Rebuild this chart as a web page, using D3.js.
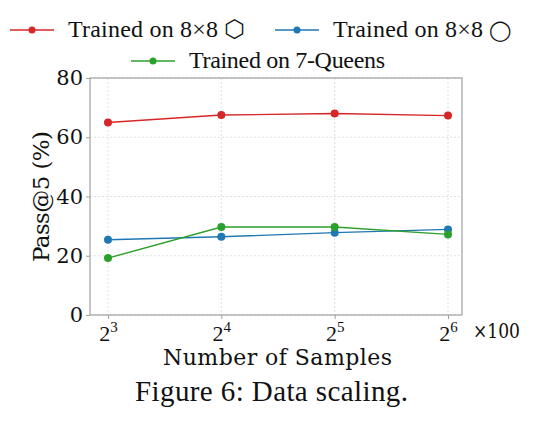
<!DOCTYPE html>
<html>
<head>
<meta charset="utf-8">
<script src="https://cdn.jsdelivr.net/npm/d3@7"></script>
<style>
  body { margin: 0; background: #fff; }
  svg { display: block; }
</style>
</head>
<body>
<div id="chart"></div>
<script>
// data
const exponents = [3, 4, 5, 6];
const seriesNames = ['Trained on 8\u00d78', 'Trained on 8\u00d78', 'Trained on 7-Queens'];
const seriesSymbols = ['\u2b21', '\u25ef', ''];
const seriesColors = ['#d62728', '#1f77b4', '#2ca02c'];
const hexValues = [65.0, 67.5, 68.0, 67.3];
const circleValues = [25.4, 26.4, 27.8, 28.9];
const queensValues = [19.2, 29.7, 29.7, 27.2];
const yTicks = [0, 20, 40, 60, 80];

const W = 552, H = 424;
const margin = {top: 78, right: 90, bottom: 109, left: 90};
const width = W - margin.left - margin.right;
const height = H - margin.top - margin.bottom;

const svg = d3.select('#chart').append('svg')
  .attr('width', W)
  .attr('height', H);

const g = svg.append('g')
  .attr('transform', 'translate(' + margin.left + ',' + margin.top + ')');

const x = d3.scalePoint().domain(exponents).range([18, width - 14]);
const y = d3.scaleLinear().domain([0, 80]).range([height, 0]);

// grid
g.selectAll('.vgrid').data(exponents).enter().append('line')
  .attr('x1', d => x(d)).attr('x2', d => x(d))
  .attr('y1', 0).attr('y2', height)
  .attr('stroke', '#d8d8d8').attr('stroke-width', 0.8).attr('stroke-dasharray', '2,2');
g.selectAll('.hgrid').data(yTicks).enter().append('line')
  .attr('x1', 0).attr('x2', width)
  .attr('y1', d => y(d)).attr('y2', d => y(d))
  .attr('stroke', '#d8d8d8').attr('stroke-width', 0.8).attr('stroke-dasharray', '2,2');

// frame
g.append('rect')
  .attr('width', width).attr('height', height)
  .attr('fill', 'none').attr('stroke', '#a0a0a0').attr('stroke-width', 1.2);

// y axis
const yAxis = g.append('g').call(d3.axisLeft(y).tickValues(yTicks).tickSize(4).tickPadding(3));
yAxis.select('.domain').remove();
yAxis.selectAll('line').attr('stroke', '#a0a0a0');
yAxis.selectAll('text')
  .attr('font-family', 'DejaVu Serif').attr('font-size', 21).attr('fill', '#111');

// x axis
const xAxis = g.append('g')
  .attr('transform', 'translate(0,' + height + ')')
  .call(d3.axisBottom(x).tickSize(4).tickFormat(''));
xAxis.select('.domain').remove();
xAxis.selectAll('line').attr('stroke', '#a0a0a0');
xAxis.selectAll('.tick').append('text')
  .attr('y', 26)
  .attr('text-anchor', 'middle')
  .attr('font-family', 'Liberation Serif').attr('font-size', 22).attr('fill', '#111')
  .each(function(d) {
    const t = d3.select(this);
    t.append('tspan').text('2');
    t.append('tspan').attr('dy', -9).attr('font-size', 15).text(d);
  });

svg.append('text')
  .attr('x', 473).attr('y', 338)
  .attr('font-family', 'DejaVu Serif').attr('font-size', 20).attr('fill', '#111')
  .attr('textLength', 47).attr('lengthAdjust', 'spacingAndGlyphs')
  .text('\u00d7100');

// lines
const allSeries = [hexValues, circleValues, queensValues];
const line = d3.line().x((d, i) => x(exponents[i])).y(d => y(d));
allSeries.forEach((vals, k) => {
  g.append('path')
    .attr('d', line(vals))
    .attr('fill', 'none').attr('stroke', seriesColors[k]).attr('stroke-width', 1.4);
  g.selectAll('.dot' + k).data(vals).enter().append('circle')
    .attr('cx', (d, i) => x(exponents[i]))
    .attr('cy', d => y(d))
    .attr('r', 4)
    .attr('fill', seriesColors[k]);
});

// axis titles
svg.append('text')
  .attr('transform', 'translate(49,' + (margin.top + height / 2) + ') rotate(-90)')
  .attr('text-anchor', 'middle')
  .attr('font-family', 'DejaVu Serif').attr('font-size', 23).attr('fill', '#111')
  .attr('textLength', 131).attr('lengthAdjust', 'spacing')
  .text('Pass@5 (%)');

svg.append('text')
  .attr('x', 163).attr('y', 365)
  .attr('font-family', 'DejaVu Serif').attr('font-size', 22).attr('fill', '#111')
  .attr('textLength', 229).attr('lengthAdjust', 'spacing')
  .text('Number of Samples');

svg.append('text')
  .attr('x', 135).attr('y', 401)
  .attr('font-family', 'Liberation Serif').attr('font-size', 29).attr('fill', '#111')
  .attr('textLength', 273).attr('lengthAdjust', 'spacing')
  .text('Figure 6: Data scaling.');

// legend
const legendPos = [{x: 10, y: 30}, {x: 275, y: 30}, {x: 131, y: 61}];
const legendTextLen = [150, 150, 196];
seriesNames.forEach((name, k) => {
  const lg = svg.append('g').attr('transform', 'translate(' + legendPos[k].x + ',' + legendPos[k].y + ')');
  lg.append('line').attr('x1', 0).attr('x2', 44).attr('y1', 0).attr('y2', 0)
    .attr('stroke', seriesColors[k]).attr('stroke-width', 1.5);
  lg.append('circle').attr('cx', 22).attr('cy', 0).attr('r', 3.5).attr('fill', seriesColors[k]);
  lg.append('text').attr('x', 58).attr('y', 7)
    .attr('font-family', 'Liberation Serif').attr('font-size', 24).attr('fill', '#111')
    .attr('textLength', legendTextLen[k]).attr('lengthAdjust', 'spacing')
    .text(name);
  if (seriesSymbols[k]) {
    lg.append('text').attr('x', 58 + legendTextLen[k] + 6).attr('y', 7)
      .attr('font-family', 'DejaVu Sans').attr('font-size', k === 0 ? 24 : 20).attr('fill', '#111')
      .text(seriesSymbols[k]);
  }
});
</script>
</body>
</html>
